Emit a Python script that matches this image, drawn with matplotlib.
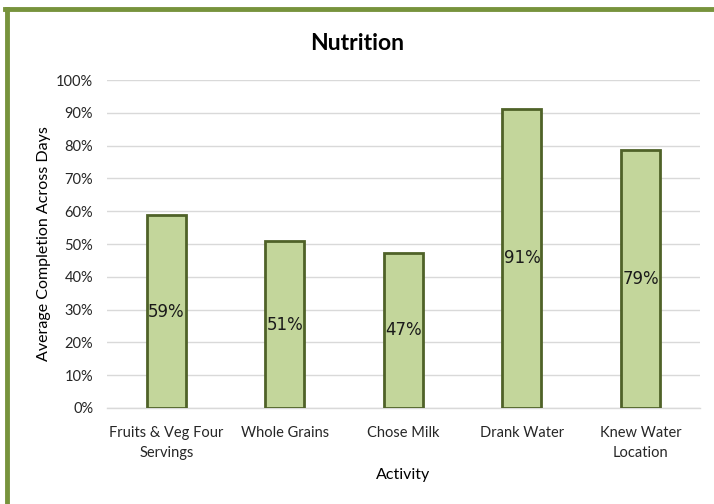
"""Nutrition activity completion bar chart."""
import matplotlib
matplotlib.use('Agg')
import matplotlib.pyplot as plt
from matplotlib.lines import Line2D
import numpy as np

activities = ['Fruits & Veg Four\nServings', 'Whole Grains', 'Chose Milk',
              'Drank Water', 'Knew Water\nLocation']
completion = [0.588, 0.509, 0.473, 0.912, 0.787]
yticks = [0.0, 0.1, 0.2, 0.3, 0.4, 0.5, 0.6, 0.7, 0.8, 0.9, 1.0]

FILL = '#C3D69B'
EDGE = '#4F6228'
FRAME = '#77933C'
GRID = '#D9D9D9'

plt.rcParams['font.family'] = ['Lato', 'DejaVu Sans']

fig = plt.figure(figsize=(7.14, 5.04), dpi=100)
ax = fig.add_axes([0.150, 0.1905, 0.830, 0.6505])

x = np.arange(len(activities))
bars = ax.bar(x, completion, width=0.33, color=FILL, edgecolor=EDGE,
              linewidth=2, zorder=3)

for b, v in zip(bars, completion):
    ax.text(b.get_x() + b.get_width() / 2, v / 2, '%d%%' % round(v * 100),
            ha='center', va='center', fontsize=12, family='DejaVu Sans',
            color='#1a1a1a', zorder=4)

ax.set_xlim(-0.5, len(activities) - 0.5)
ax.set_ylim(0, 1.0)
ax.set_yticks(yticks)
ax.set_yticklabels(['%d%%' % round(t * 100) for t in yticks])
ax.set_xticks(x)
ax.set_xticklabels(activities, linespacing=1.55)
ax.tick_params(axis='both', length=0, labelsize=10.5, colors='#262626')
ax.tick_params(axis='x', pad=13)
ax.tick_params(axis='y', pad=10)
ax.grid(axis='y', color=GRID, linewidth=1, zorder=0)
for s in ['top', 'right', 'left']:
    ax.spines[s].set_visible(False)
ax.spines['bottom'].set_color(GRID)
ax.spines['bottom'].set_linewidth(1)

ax.set_ylabel('Average Completion Across Days', fontsize=11.5, labelpad=4)
ax.set_xlabel('Activity', fontsize=11.5, labelpad=6)
fig.text(0.50, 0.913, 'Nutrition', ha='center', va='center', fontsize=16.5,
         fontweight='bold', color='black')

# Green frame on the left and top edges.
fig.add_artist(Line2D([7 / 714, 7 / 714], [0, 1 - 9 / 504], color=FRAME,
                      linewidth=3.5, transform=fig.transFigure))
fig.add_artist(Line2D([5.3 / 714, 1], [1 - 9 / 504, 1 - 9 / 504], color=FRAME,
                      linewidth=3.5, transform=fig.transFigure))

plt.savefig('out.png', dpi=100)
